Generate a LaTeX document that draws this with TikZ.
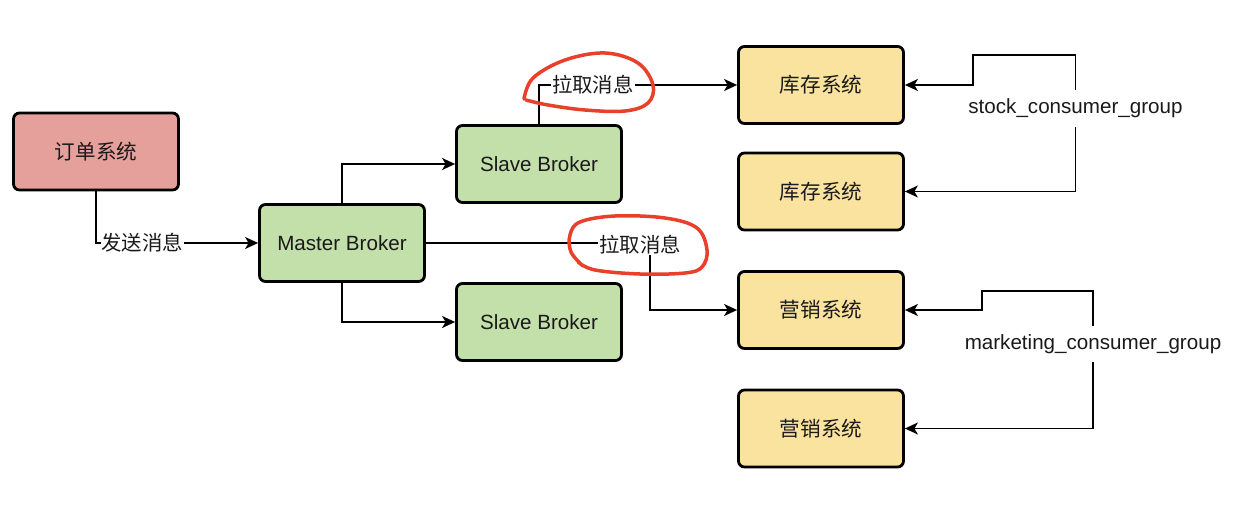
\documentclass[tikz,border=0pt]{standalone}
\usepackage{fontspec}
\setmainfont{Liberation Sans}
\newfontfamily\cjk{Noto Sans CJK SC}
\usetikzlibrary{arrows.meta}
\definecolor{redfill}{HTML}{E5A09B}
\definecolor{greenfill}{HTML}{C3DFAA}
\definecolor{yellowfill}{HTML}{FAE29F}
\definecolor{loopred}{HTML}{E8402A}
\definecolor{textc}{HTML}{1A1A1A}
\begin{document}
\begin{tikzpicture}[x=1pt,y=-1pt,
  box/.style={draw=black, line width=2.8pt, rounded corners=6pt, minimum width=165pt, minimum height=77pt, inner sep=0pt, text=textc, font=\fontsize{20.6}{24}\selectfont},
  conn/.style={draw=black, line width=1.5pt, -{Stealth[length=13pt,width=12pt,inset=3.5pt]}},
  lbl/.style={fill=white, inner sep=1pt, text=textc, font=\fontsize{20.4}{24}\selectfont},
  grp/.style={inner sep=0pt, minimum height=36pt, text=textc, font=\fontsize{20.6}{24}\selectfont},
  redloop/.style={draw=loopred, line width=3.5pt, line cap=round, line join=round}
]
\useasboundingbox[fill=white] (0,0) rectangle (1258,506);

\node[box, fill=redfill] (order) at (96,151.5) {\cjk 订单系统};
\node[box, fill=greenfill] (master) at (342,243) {Master Broker};
\node[box, fill=greenfill] (slave1) at (539,164) {Slave Broker};
\node[box, fill=greenfill] (slave2) at (539,322) {Slave Broker};
\node[box, fill=yellowfill] (stock1) at (821,85) {\cjk 库存系统};
\node[box, fill=yellowfill] (stock2) at (821,191.5) {\cjk 库存系统};
\node[box, fill=yellowfill] (mkt1) at (821,310) {\cjk 营销系统};
\node[box, fill=yellowfill] (mkt2) at (821,428.5) {\cjk 营销系统};

\draw[conn] (order.south) |- node[lbl, pos=0.643] (send) {\cjk 发送消息} (master.west);
\draw[conn] (master.north) |- (slave1.west);
\draw[conn] (master.south) |- (slave2.west);
\draw[conn] (slave1.north) |- node[lbl, pos=0.636] (pull1) {\cjk 拉取消息} (stock1.west);

\coordinate (turn2) at (650,310);
\draw[conn] (master.east) -| (turn2) -- (mkt1.west);
\node[lbl] (pull2) at (640,245) {\cjk 拉取消息};

\node[grp] (scg) at (1075.5,108.5) {stock\_consumer\_group};
\coordinate (sA) at (973,55);
\draw[conn] (scg.north) |- (sA) |- (stock1.east);
\draw[conn] (scg.south) |- (stock2.east);

\node[grp] (mcg) at (1093,344) {marketing\_consumer\_group};
\coordinate (mA) at (982,291);
\draw[conn] (mcg.north) |- (mA) |- (mkt1.east);
\draw[conn] (mcg.south) |- (mkt2.east);

\draw[redloop] plot[smooth, tension=0.6] coordinates {(524,99) (533,78) (565,60) (605,53) (638,63) (653,85) (648,103) (625,111) (585,110) (548,105) (526,100)};
\draw[redloop] plot[smooth, tension=0.6] coordinates {(583,266) (571,252) (570,235) (580,222) (615,216) (665,218) (697,228) (707,250) (702,267) (685,273) (640,274) (595,270) (578,262)};
\end{tikzpicture}
\end{document}
